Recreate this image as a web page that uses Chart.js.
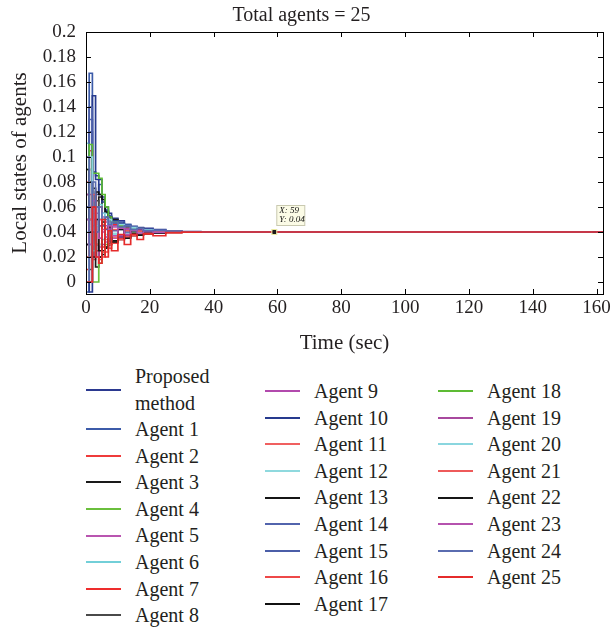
<!DOCTYPE html>
<html>
<head>
<meta charset="utf-8">
<script src="https://cdn.jsdelivr.net/npm/chart.js@4.4.1/dist/chart.umd.min.js"></script>
<style>
  html, body { margin: 0; padding: 0; background: #fff; }
  #wrap { position: relative; width: 616px; height: 631px; overflow: hidden; }
  #chart { position: absolute; left: 0; top: 0; }
  .col { position: absolute; font-family: "Liberation Serif", serif; font-size: 20px; color: #231f20; }
  .row { display: flex; align-items: center; height: 26.6px; line-height: 26.6px; }
  .row.tall { height: 52px; line-height: 26.6px; }
  .swatch { width: 35px; height: 2px; margin-right: 14px; flex: none; }
  .txt { max-width: 100px; }
</style>
</head>
<body>
<div id="wrap">
  <canvas id="chart" width="616" height="360"></canvas>
  <div class="col" id="col1" style="left:86px; top:364px;"></div>
  <div class="col" id="col2" style="left:265px; top:378px;"></div>
  <div class="col" id="col3" style="left:438px; top:378px;"></div>
</div>
<script>
// sample times (sec), values are held until the next sample
const times = [0, 1, 2, 3, 4, 5, 6, 7, 8, 10, 12, 14, 16, 18, 21, 25, 30, 36, 162];
const xTicks = [0, 20, 40, 60, 80, 100, 120, 140, 160];
const yTicks = [0, 0.02, 0.04, 0.06, 0.08, 0.1, 0.12, 0.14, 0.16, 0.18, 0.2];
const tipX = 59;
const tipY = 0.04;

const labels = ["Proposed method", "Agent 1", "Agent 2", "Agent 3", "Agent 4", "Agent 5", "Agent 6", "Agent 7", "Agent 8",
  "Agent 9", "Agent 10", "Agent 11", "Agent 12", "Agent 13", "Agent 14", "Agent 15", "Agent 16", "Agent 17",
  "Agent 18", "Agent 19", "Agent 20", "Agent 21", "Agent 22", "Agent 23", "Agent 24", "Agent 25"];

const colors = ["#2b3990", "#3c5ba9", "#ef3b3b", "#1a1a1a", "#6abf3c", "#b955b0", "#72cfd8", "#ee2d2d", "#4a4a4a",
  "#b24aad", "#263a8e", "#f06060", "#8fd9de", "#151515", "#5264ad", "#4b5ea8", "#ee4848", "#111111",
  "#5dbb34", "#a8489e", "#8ad6df", "#ee5a5a", "#161616", "#b552ae", "#5a6cb0", "#e52b2b"];

const proposed = [0.03, 0.12, 0.088, 0.085, 0.082, 0.068, 0.06, 0.055, 0.051, 0.049, 0.046, 0.0445, 0.0435, 0.043, 0.042, 0.041, 0.0403, 0.04, 0.04];
const agent1 = [-0.008, 0.167, 0.06, 0.07, 0.078, 0.066, 0.058, 0.053, 0.05, 0.048, 0.046, 0.044, 0.043, 0.042, 0.041, 0.0405, 0.0402, 0.04, 0.04];
const agent2 = [0.0, 0.105, 0.018, 0.045, 0.02, 0.05, 0.028, 0.046, 0.032, 0.044, 0.036, 0.042, 0.038, 0.041, 0.0392, 0.0404, 0.0399, 0.04, 0.04];
const agent3 = [0.06, 0.02, 0.075, 0.012, 0.068, 0.025, 0.056, 0.03, 0.05, 0.034, 0.045, 0.037, 0.043, 0.0385, 0.041, 0.0396, 0.0401, 0.04, 0.04];
const agent4 = [0.09, 0.06, 0.0, 0.0, 0.015, 0.024, 0.03, 0.033, 0.035, 0.036, 0.038, 0.039, 0.0395, 0.0398, 0.0399, 0.04, 0.04, 0.04, 0.04];
const agent5 = [0.02, 0.07, 0.03, 0.055, 0.028, 0.052, 0.032, 0.048, 0.035, 0.044, 0.037, 0.042, 0.0385, 0.0412, 0.0394, 0.0403, 0.04, 0.04, 0.04];
const agent6 = [0.111, 0.04, 0.065, 0.03, 0.062, 0.034, 0.055, 0.036, 0.049, 0.037, 0.045, 0.038, 0.042, 0.0392, 0.0406, 0.0398, 0.0401, 0.04, 0.04];
const agent7 = [0.01, 0.09, 0.055, 0.025, 0.06, 0.028, 0.05, 0.033, 0.046, 0.035, 0.043, 0.0375, 0.0415, 0.0388, 0.0405, 0.0397, 0.04, 0.04, 0.04];
const agent8 = [0.07, 0.01, 0.045, 0.065, 0.02, 0.045, 0.052, 0.03, 0.047, 0.036, 0.044, 0.038, 0.0415, 0.0392, 0.0404, 0.0398, 0.04, 0.04, 0.04];
const agent9 = [0.03, 0.06, 0.02, 0.05, 0.035, 0.04, 0.045, 0.034, 0.044, 0.037, 0.042, 0.0385, 0.041, 0.0394, 0.0403, 0.0399, 0.04, 0.04, 0.04];
const agent10 = [0.02, -0.008, 0.149, 0.082, 0.07, 0.064, 0.057, 0.052, 0.049, 0.047, 0.045, 0.0435, 0.0425, 0.0418, 0.041, 0.0404, 0.0401, 0.04, 0.04];
const agent11 = [0.08, 0.0, 0.035, 0.05, 0.03, 0.046, 0.034, 0.044, 0.036, 0.043, 0.038, 0.0415, 0.039, 0.0405, 0.0397, 0.0402, 0.04, 0.04, 0.04];
const agent12 = [0.04, 0.09, 0.03, 0.06, 0.035, 0.05, 0.038, 0.047, 0.039, 0.045, 0.0395, 0.043, 0.0398, 0.0415, 0.04, 0.0403, 0.04, 0.04, 0.04];
const agent13 = [0.05, 0.08, 0.04, 0.03, 0.02, 0.022, 0.027, 0.03, 0.033, 0.036, 0.038, 0.039, 0.0395, 0.0398, 0.0399, 0.04, 0.04, 0.04, 0.04];
const agent14 = [0.0, 0.13, 0.07, 0.04, 0.05, 0.045, 0.05, 0.043, 0.047, 0.042, 0.045, 0.041, 0.043, 0.0408, 0.0415, 0.0402, 0.0401, 0.04, 0.04];
const agent15 = [0.06, 0.14, 0.05, 0.06, 0.045, 0.055, 0.042, 0.05, 0.041, 0.046, 0.04, 0.044, 0.0405, 0.042, 0.0403, 0.0402, 0.04, 0.04, 0.04];
const agent16 = [0.1, 0.02, 0.06, 0.04, 0.018, 0.02, 0.024, 0.027, 0.031, 0.034, 0.036, 0.038, 0.039, 0.0395, 0.0398, 0.0399, 0.04, 0.04, 0.04];
const agent17 = [0.03, 0.05, 0.06, 0.072, 0.07, 0.066, 0.056, 0.052, 0.048, 0.045, 0.043, 0.042, 0.0412, 0.0405, 0.0402, 0.0401, 0.04, 0.04, 0.04];
const agent18 = [0.02, 0.11, 0.087, 0.087, 0.083, 0.07, 0.06, 0.052, 0.048, 0.045, 0.043, 0.042, 0.041, 0.0405, 0.0402, 0.0401, 0.04, 0.04, 0.04];
const agent19 = [0.07, 0.03, 0.05, 0.02, 0.045, 0.03, 0.048, 0.033, 0.045, 0.036, 0.043, 0.0375, 0.0415, 0.0392, 0.0405, 0.0398, 0.04, 0.04, 0.04];
const agent20 = [0.0, 0.1, 0.025, 0.045, 0.03, 0.055, 0.036, 0.05, 0.038, 0.046, 0.0385, 0.0435, 0.0395, 0.0415, 0.0402, 0.0401, 0.04, 0.04, 0.04];
const agent21 = [0.02, 0.05, 0.07, 0.03, 0.05, 0.024, 0.043, 0.03, 0.042, 0.034, 0.041, 0.037, 0.0405, 0.0388, 0.0401, 0.0397, 0.04, 0.04, 0.04];
const agent22 = [0.09, 0.04, 0.02, 0.05, 0.025, 0.048, 0.028, 0.044, 0.032, 0.042, 0.035, 0.041, 0.0375, 0.0405, 0.039, 0.0402, 0.0399, 0.04, 0.04];
const agent23 = [0.05, 0.03, 0.065, 0.04, 0.035, 0.042, 0.036, 0.045, 0.037, 0.043, 0.038, 0.0415, 0.0392, 0.0408, 0.0397, 0.0401, 0.04, 0.04, 0.04];
const agent24 = [0.1, 0.0, 0.08, 0.04, 0.06, 0.05, 0.052, 0.046, 0.048, 0.044, 0.045, 0.042, 0.043, 0.041, 0.0412, 0.0403, 0.0401, 0.04, 0.04];
const agent25 = [0.0, 0.0, 0.06, 0.02, 0.015, 0.05, 0.02, 0.041, 0.025, 0.038, 0.03, 0.038, 0.034, 0.0385, 0.037, 0.0395, 0.0399, 0.04, 0.04];

const series = [proposed, agent1, agent2, agent3, agent4, agent5, agent6, agent7, agent8, agent9, agent10,
  agent11, agent12, agent13, agent14, agent15, agent16, agent17, agent18, agent19, agent20,
  agent21, agent22, agent23, agent24, agent25];

const SERIF = "'Liberation Serif', 'Times New Roman', serif";
const INK = "#231f20";

// matlab style box with inward ticks
const framePlugin = {
  id: "frame",
  afterDraw(chart) {
    const { ctx, chartArea: a, scales } = chart;
    const len = 5;
    ctx.save();
    ctx.strokeStyle = "#000";
    ctx.lineWidth = 1;
    ctx.strokeRect(a.left + 0.5, a.top + 0.5, a.right - a.left, a.bottom - a.top);
    ctx.beginPath();
    xTicks.forEach((v) => {
      const px = Math.round(scales.x.getPixelForValue(v)) + 0.5;
      ctx.moveTo(px, a.bottom); ctx.lineTo(px, a.bottom - len);
      ctx.moveTo(px, a.top); ctx.lineTo(px, a.top + len);
    });
    yTicks.forEach((v) => {
      const py = Math.round(scales.y.getPixelForValue(v)) + 0.5;
      ctx.moveTo(a.left, py); ctx.lineTo(a.left + len, py);
      ctx.moveTo(a.right, py); ctx.lineTo(a.right - len, py);
    });
    ctx.stroke();
    ctx.restore();
  },
};

// data tip at (tipX, tipY)
const tipPlugin = {
  id: "datatip",
  afterDatasetsDraw(chart) {
    const { ctx, scales } = chart;
    const px = scales.x.getPixelForValue(tipX);
    const py = scales.y.getPixelForValue(tipY);
    ctx.save();
    ctx.fillStyle = "#fbfbe6";
    ctx.strokeStyle = "#c9c9b0";
    ctx.lineWidth = 1;
    ctx.fillRect(px + 2.5, py - 26.5, 28, 20);
    ctx.strokeRect(px + 2.5, py - 26.5, 28, 20);
    ctx.fillStyle = "#111";
    ctx.font = "italic 9px " + SERIF;
    ctx.textBaseline = "middle";
    ctx.fillText("X: " + tipX, px + 5, py - 21);
    ctx.fillText("Y: " + tipY, px + 5, py - 12);
    ctx.fillStyle = "#1a1a1a";
    ctx.strokeStyle = "#e8e8a0";
    ctx.fillRect(px - 2, py - 2, 4, 4);
    ctx.strokeRect(px - 2.5, py - 2.5, 5, 5);
    ctx.restore();
  },
};

const datasets = series.map((vals, i) => ({
  label: labels[i],
  data: times.map((t, j) => ({ x: t, y: vals[j] })),
  borderColor: colors[i],
  backgroundColor: colors[i],
  borderWidth: 1.7,
  pointRadius: 0,
  stepped: true,
  fill: false,
  order: series.length - i,
}));

const chart = new Chart(document.getElementById("chart"), {
  type: "line",
  data: { datasets },
  plugins: [framePlugin, tipPlugin],
  options: {
    responsive: false,
    animation: false,
    devicePixelRatio: 1,
    layout: { padding: { left: 0, right: 13, top: 0, bottom: 0 } },
    plugins: {
      legend: { display: false },
      tooltip: { enabled: false },
      title: {
        display: true,
        text: "Total agents = 25",
        color: INK,
        font: { family: SERIF, size: 20, weight: "normal" },
        padding: { top: 4, bottom: 4 },
      },
    },
    scales: {
      x: {
        type: "linear",
        min: 0,
        max: 162,
        grid: { display: false, drawTicks: false },
        border: { display: false },
        afterBuildTicks: (s) => { s.ticks = xTicks.map((v) => ({ value: v })); },
        afterFit: (s) => { s.height = 66; },
        ticks: { color: INK, font: { family: SERIF, size: 19 }, padding: 3, maxRotation: 0 },
        title: { display: true, text: "Time (sec)", color: INK, font: { family: SERIF, size: 21 }, padding: { bottom: 4 } },
      },
      y: {
        type: "linear",
        min: -0.0096,
        max: 0.2,
        grid: { display: false, drawTicks: false },
        border: { display: false },
        afterBuildTicks: (s) => { s.ticks = yTicks.map((v) => ({ value: v })); },
        afterFit: (s) => { s.width = 86; },
        ticks: {
          color: INK,
          font: { family: SERIF, size: 19 },
          padding: 10,
          callback: (v) => String(Number(v.toFixed(2))),
        },
        title: { display: true, text: "Local states of agents", color: INK, font: { family: SERIF, size: 21 }, padding: { top: 8 } },
      },
    },
  },
});

// legend in three columns, built from the chart datasets
const groups = [[0, 9], [9, 18], [18, 26]];
groups.forEach(([a, b], k) => {
  const col = document.getElementById("col" + (k + 1));
  chart.data.datasets.slice(a, b).forEach((ds, j) => {
    const row = document.createElement("div");
    row.className = a === 0 && j === 0 ? "row tall" : "row";
    row.innerHTML = `<span class="swatch" style="background:${ds.borderColor}"></span><span class="txt">${ds.label}</span>`;
    col.appendChild(row);
  });
});
</script>
</body>
</html>
